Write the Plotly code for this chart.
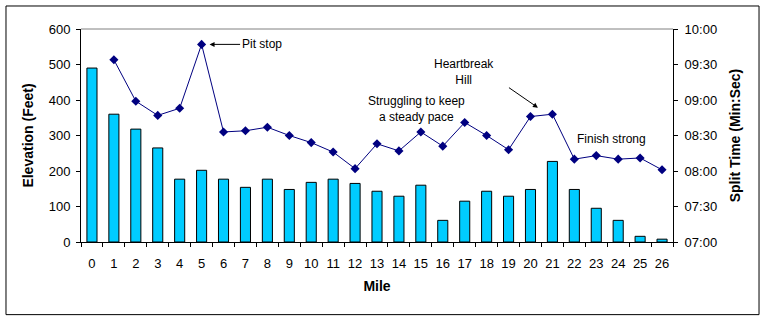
import plotly.graph_objects as go

miles = [str(i) for i in range(27)]
elevation = [490, 360, 318, 265, 177, 202, 177, 154, 177, 148, 168, 177, 165, 143, 129, 160,
             61, 115, 143, 129, 148, 227, 148, 95, 61, 16, 8]
split_miles = [str(i) for i in range(1, 27)]
split_times = ["9:34", "8:59", "8:47", "8:53", "9:47", "8:33", "8:34", "8:37", "8:30", "8:24",
               "8:16", "8:02", "8:23", "8:17", "8:33", "8:21", "8:41", "8:30", "8:18", "8:46",
               "8:48", "8:10", "8:13", "8:10", "8:11", "8:01"]
time_ticks = ["07:00", "07:30", "08:00", "08:30", "09:00", "09:30", "10:00"]


def to_sec(t):
    m, s = t.split(":")
    return int(m) * 60 + int(s) - 7 * 60


split_sec = [to_sec(t) for t in split_times]
tick_sec = [to_sec(t) for t in time_ticks]

FONT = "Liberation Sans, Arial, sans-serif"

fig = go.Figure()
fig.add_trace(go.Bar(x=miles, y=elevation, width=0.46,
                     marker=dict(color="#00CCFF", line=dict(color="black", width=1)),
                     yaxis="y"))
fig.add_trace(go.Scatter(x=split_miles, y=split_sec, mode="lines+markers",
                         line=dict(color="#000080", width=1),
                         marker=dict(symbol="diamond", size=7, color="#000080"),
                         yaxis="y2"))

fig.update_layout(
    width=766, height=321,
    margin=dict(l=81, r=93, t=29, b=79),
    paper_bgcolor="white", plot_bgcolor="white",
    showlegend=False,
    font=dict(family=FONT, size=13, color="black"),
    xaxis=dict(type="category", range=[-0.5, 26.5], autorange=False,
               tickson="boundaries", ticks="outside", ticklen=4, tickangle=0,
               ticklabelstandoff=9,
               tickcolor="black", showline=True, linecolor="black", linewidth=1,
               showgrid=False, tickfont=dict(size=13),
               title=dict(text="<b>Mile</b>", font=dict(size=14), standoff=11)),
    yaxis=dict(range=[0, 600], tickvals=[0, 100, 200, 300, 400, 500, 600],
               ticks="outside", ticklen=4, tickcolor="black", showline=True,
               linecolor="black", linewidth=1, showgrid=False, zeroline=False,
               ticklabelstandoff=3, tickfont=dict(size=13),
               title=dict(text="<b>Elevation (Feet)</b>", font=dict(size=14), standoff=11)),
    yaxis2=dict(range=[0, 180], overlaying="y", side="right", tickvals=tick_sec,
                ticktext=time_ticks, ticks="outside", ticklen=4, tickcolor="black",
                showline=True, linecolor="black", linewidth=1, showgrid=False,
                zeroline=False, ticklabelstandoff=4, tickfont=dict(size=13),
                title=dict(text="<b>Split Time (Min:Sec)</b>", font=dict(size=14), standoff=14)),
)

# plot-area top border and outer chart border
fig.add_shape(type="line", xref="paper", yref="paper", x0=0, x1=1, y0=1, y1=1,
              line=dict(color="#808080", width=1))
fig.add_shape(type="rect", xref="paper", yref="paper", x0=-0.1267, x1=1.1453,
              y0=-0.341, y1=1.108, line=dict(color="black", width=1), layer="below")

afont = dict(family=FONT, size=12, color="black")
fig.add_annotation(x=5, y=to_sec("9:47"), xref="x", yref="y2", text="Pit stop",
                   showarrow=True, arrowhead=2, arrowsize=1, arrowwidth=1, arrowcolor="black",
                   ax=60, ay=0, standoff=8, font=afont)
fig.add_annotation(x=14.78, y=112, xref="x", yref="y2",
                   text="Struggling to keep<br>a steady pace", showarrow=False, font=afont)
fig.add_annotation(x=16.96, y=143.5, xref="x", yref="y2",
                   text="Heartbreak<br>Hill", showarrow=False, font=afont)
fig.add_annotation(x=20.34, y=113.5, xref="x", yref="y2", axref="x", ayref="y2",
                   ax=18.95, ay=131.3, text="", showarrow=True, arrowhead=2, arrowsize=1,
                   arrowwidth=1, arrowcolor="black")
fig.add_annotation(x=23.71, y=87.3, xref="x", yref="y2",
                   text="Finish strong", showarrow=False, font=afont)

fig.write_html("out.html")
